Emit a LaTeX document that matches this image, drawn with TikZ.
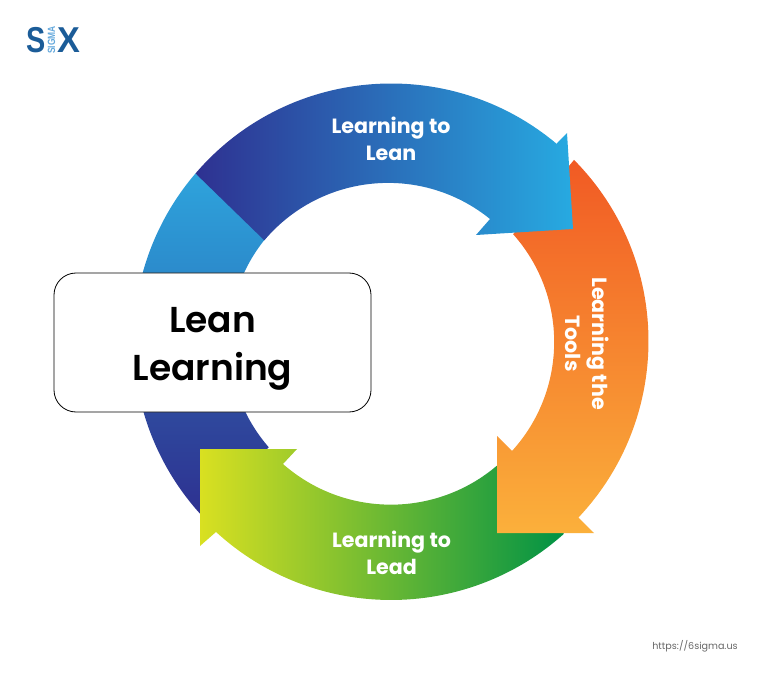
\documentclass[tikz,border=0pt]{standalone}
\usepackage{fontspec}
\usepackage{tikz}
\usetikzlibrary{calc}
\setmainfont{Poppins}
\newfontfamily\labelFont{Poppins Bold}
\newfontfamily\titleFont{Poppins SemiBold}
\newfontfamily\logoFont{Liberation Sans}
\definecolor{logoBlue}{HTML}{1B5C98}
\definecolor{logoSky}{HTML}{63A8DC}
\newcommand{\ringOut}{257.5}
\newcommand{\ringIn}{162}

\begin{document}
\begin{tikzpicture}[x=1pt, y=-1pt]
  \tikzset{stepLabel/.style={text=white,align=center,font=\labelFont\fontsize{20.6}{27}\selectfont},
    leanBox/.style={draw=black,line width=0.8pt,fill=white,rounded corners=22pt,minimum width=317pt,minimum height=139pt},
    leanTitle/.style={align=center,font=\titleFont\fontsize{36}{48}\selectfont},
    logoLetter/.style={text=logoBlue,inner sep=0pt,font=\logoFont\bfseries\fontsize{36}{36}\selectfont}}
  \useasboundingbox (0,0) rectangle (782,687);
  \coordinate (ringC) at (391,341);
  % bands behind the box
  \shade[top color={rgb,255:red,47;green,86;blue,164},bottom color={rgb,255:red,46;green,49;blue,145}]
    ($(ringC)+(175:\ringOut)$) arc[start angle=175,end angle=137.7,radius=\ringOut]
    -- ($(ringC)+(139:\ringIn)$) arc[start angle=139,end angle=175,radius=\ringIn] -- cycle;
  \shade[top color={rgb,255:red,46;green,163;blue,220},bottom color={rgb,255:red,42;green,126;blue,195}]
    ($(ringC)+(220.6:\ringOut)$) arc[start angle=220.6,end angle=185,radius=\ringOut]
    -- ($(ringC)+(185:\ringIn)$) arc[start angle=185,end angle=220.2,radius=\ringIn] -- cycle;
  % green arrow
  \shade[left color={rgb,255:red,217;green,224;blue,33},middle color={rgb,255:red,96;green,184;blue,70},right color={rgb,255:red,0;green,146;blue,69}]
    ($(ringC)+(48.1:259)$) arc[start angle=48.1,end angle=132.5,radius=259]
    -- (200,546) -- (200,449) -- (297,449) -- (283,464)
    arc[start angle=131.3,end angle=49.7,radius=163.5] -- cycle;
  % orange arrow
  \shade[top color={rgb,255:red,241;green,90;blue,36},bottom color={rgb,255:red,251;green,176;blue,59}]
    ($(ringC)+(-44.7:\ringOut)$) arc[start angle=-44.7,end angle=43.3,radius=\ringOut]
    -- (594,533) -- (497,533) -- (497,436) -- (512,451)
    arc[start angle=42.3,end angle=-41.7,radius=\ringIn] -- cycle;
  % blue arrow
  \shade[left color={rgb,255:red,46;green,49;blue,145},right color={rgb,255:red,39;green,170;blue,225}]
    ($(ringC)+(220.6:\ringOut)$) arc[start angle=220.6,end angle=310,radius=\ringOut]
    -- (567,133) -- (573,229) -- (476,235) -- (490,219)
    arc[start angle=309,end angle=220.2,radius=\ringIn] -- cycle;
  \node[leanBox] (boxLean) at (212.5,342.5) {};
  \node[leanTitle] (titleLean) at (212.5,348.5) {Lean\\Learning};
  \node[stepLabel] (stepLean) at (391,139) {Learning to\\Lean};
  \node[stepLabel,rotate=-90] (stepTools) at (587,343.5) {Learning the\\Tools};
  \node[stepLabel] (stepLead) at (391.5,553) {Learning to\\Lead};
  % logo
  \node[logoLetter,xscale=0.8] (logoS) at (36,40) {S};
  \node[logoLetter,xscale=0.95] (logoX) at (69,40) {X};
  \node[text=logoSky,inner sep=0pt,rotate=90,xscale=0.8,font=\logoFont\bfseries\fontsize{10.5}{10.5}\selectfont] (logoSigma) at (51.5,40) {SIGMA};
  \node[text=black!60,inner sep=0pt,font=\fontsize{9.6}{12}\selectfont] (linkSite) at (695,646) {https://6sigma.us};
\end{tikzpicture}
\end{document}
